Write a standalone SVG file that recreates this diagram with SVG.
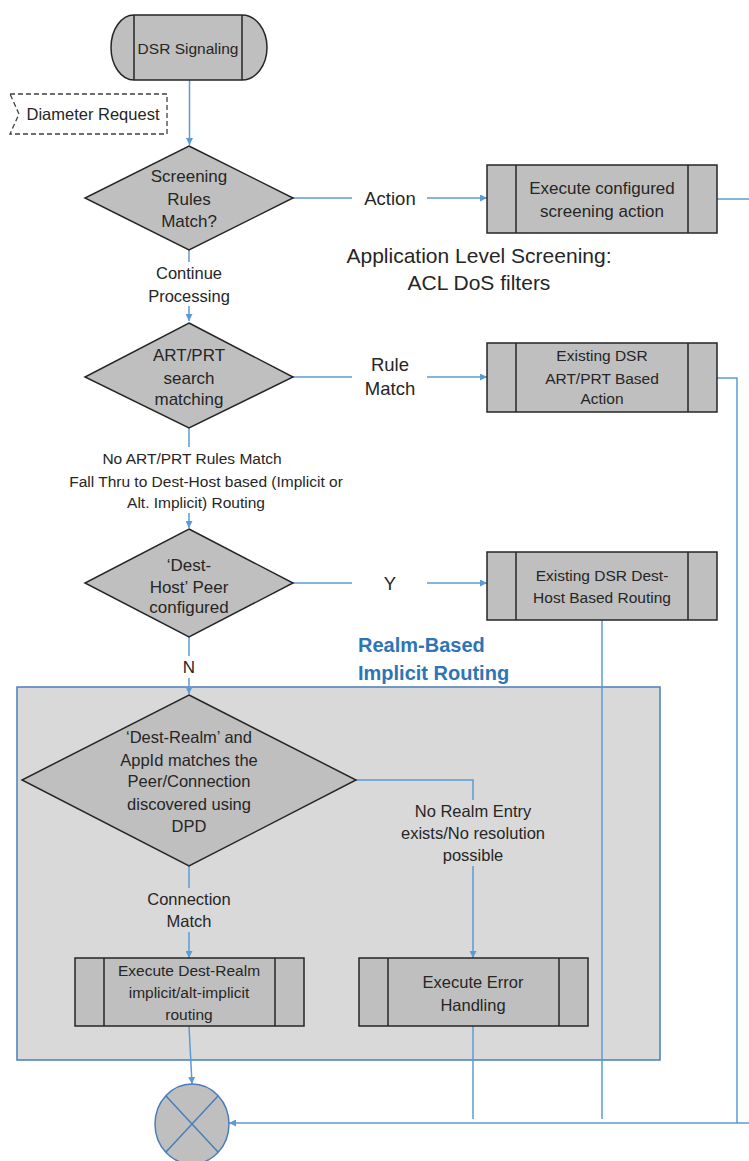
<svg xmlns="http://www.w3.org/2000/svg" width="749" height="1161" viewBox="0 0 749 1161">
<style>
text{font-family:"Liberation Sans",Arial,sans-serif;font-size:16.5px;fill:#262626;text-anchor:middle;dominant-baseline:central}
text.s{font-size:15.5px}
text.d{font-size:17px}
text.l{font-size:18.5px}
.shape{fill:#bfbfbf;stroke:#262626;stroke-width:1.5}
.inner{stroke:#262626;stroke-width:1.5;fill:none}
.conn{fill:none;stroke:#5b9bd5;stroke-width:1.5}
text.big{font-size:21px}
text.realm{font-size:20px;font-weight:bold;fill:#2e75b6;text-anchor:start}
.bgw{fill:#ffffff}
.bgg{fill:#d9d9d9}
</style>
<defs>
<marker id="arr" viewBox="0 0 10 10" refX="10" refY="5" markerWidth="7" markerHeight="7" orient="auto" markerUnits="userSpaceOnUse">
<path d="M0,0 L10,5 L0,10 Z" fill="#5b9bd5"/>
</marker>
</defs>

<g id="realm-group">
<rect x="17" y="687" width="643" height="373" fill="#d9d9d9" stroke="#4a7ebb" stroke-width="1.5"/>
</g>

<g id="connectors">
<path class="conn" d="M189.5,80 V145" marker-end="url(#arr)"/>
<path class="conn" d="M293,198 H487" marker-end="url(#arr)"/>
<path class="conn" d="M717,199 H749"/>
<path class="conn" d="M189,250 V321" marker-end="url(#arr)"/>
<path class="conn" d="M293,377 H487" marker-end="url(#arr)"/>
<path class="conn" d="M717,378 H737 V1123"/>
<path class="conn" d="M189,428 V528" marker-end="url(#arr)"/>
<path class="conn" d="M293,583 H487" marker-end="url(#arr)"/>
<path class="conn" d="M602,620 V1119"/>
<path class="conn" d="M189,637 V694" marker-end="url(#arr)"/>
<path class="conn" d="M189,866 V958" marker-end="url(#arr)"/>
<path class="conn" d="M356,780 H473 V958" marker-end="url(#arr)"/>
<path class="conn" d="M473,1026 V1119"/>
<path class="conn" d="M189,1026 L192,1084" marker-end="url(#arr)"/>
<path class="conn" d="M749,1123 H229" marker-end="url(#arr)"/>
<!-- connector labels -->
<rect class="bgw" x="352" y="186" width="75" height="26"/>
<text class="l" x="390" y="198">Action</text>
<rect class="bgw" x="150" y="262" width="78" height="44"/>
<text x="189" y="273">Continue</text>
<text x="189" y="296">Processing</text>
<rect class="bgw" x="352" y="351" width="75" height="50"/>
<text class="l" x="390" y="364">Rule</text>
<text class="l" x="390" y="388">Match</text>
<rect class="bgw" x="70" y="447" width="275" height="66"/>
<text class="s" x="192" y="458">No ART/PRT Rules Match</text>
<text class="s" x="206" y="481">Fall Thru to Dest-Host based (Implicit or</text>
<text class="s" x="196" y="502">Alt. Implicit) Routing</text>
<rect class="bgw" x="352" y="571" width="75" height="24"/>
<text class="l" x="390" y="583">Y</text>
<rect class="bgw" x="178" y="656" width="22" height="22"/>
<text class="d" x="189" y="667">N</text>
<rect class="bgg" x="141" y="888" width="96" height="44"/>
<text x="189" y="899">Connection</text>
<text x="189" y="921">Match</text>
<rect class="bgg" x="393" y="800" width="160" height="66"/>
<text x="473" y="811">No Realm Entry</text>
<text x="473" y="833">exists/No resolution</text>
<text x="473" y="855">possible</text>
</g>

<g id="dsr-signaling">
<path class="shape" d="M134,15 H242 A25,32.5 0 0 1 242,80 H134 A23,32.5 0 0 1 134,15 Z"/>
<line class="inner" x1="134" y1="15" x2="134" y2="80"/>
<line class="inner" x1="242" y1="15" x2="242" y2="80"/>
<text class="s" x="188" y="48">DSR Signaling</text>
</g>

<g id="diameter-request">
<path d="M10,94 H167 V134 H10 L19,114 Z" fill="#ffffff" stroke="#404040" stroke-width="1.3" stroke-dasharray="5,3"/>
<text x="93" y="114">Diameter Request</text>
</g>

<g id="screening-decision">
<polygon class="shape" points="189,146 293,198 189,250 85,198"/>
<text class="d" x="189" y="176">Screening</text>
<text class="d" x="189" y="199">Rules</text>
<text class="d" x="189" y="221">Match?</text>
</g>

<g id="screening-action">
<rect class="shape" x="487" y="165" width="230" height="68"/>
<line class="inner" x1="516" y1="165" x2="516" y2="233"/>
<line class="inner" x1="688" y1="165" x2="688" y2="233"/>
<text class="d" x="602" y="188">Execute configured</text>
<text class="d" x="602" y="211">screening action</text>
</g>

<g id="screening-caption">
<text class="big" x="479" y="255">Application Level Screening:</text>
<text class="big" x="479" y="282">ACL DoS filters</text>
</g>

<g id="art-prt-decision">
<polygon class="shape" points="189,323 293,377 189,428 85,377"/>
<text class="d" x="189" y="355">ART/PRT</text>
<text class="d" x="189" y="378">search</text>
<text class="d" x="189" y="399">matching</text>
</g>

<g id="art-prt-action">
<rect class="shape" x="487" y="343" width="230" height="69"/>
<line class="inner" x1="516" y1="343" x2="516" y2="412"/>
<line class="inner" x1="688" y1="343" x2="688" y2="412"/>
<text class="s" x="602" y="355">Existing DSR</text>
<text class="s" x="602" y="378">ART/PRT Based</text>
<text class="s" x="602" y="398">Action</text>
</g>

<g id="dest-host-decision">
<polygon class="shape" points="189,529 293,583 189,637 85,583"/>
<text class="d" x="189" y="565">‘Dest-</text>
<text class="d" x="189" y="587">Host’ Peer</text>
<text class="d" x="189" y="607">configured</text>
</g>

<g id="dest-host-routing">
<rect class="shape" x="487" y="552" width="230" height="68"/>
<line class="inner" x1="516" y1="552" x2="516" y2="620"/>
<line class="inner" x1="688" y1="552" x2="688" y2="620"/>
<text class="s" x="602" y="575">Existing DSR Dest-</text>
<text class="s" x="602" y="597">Host Based Routing</text>
</g>

<g id="realm-label">
<text class="realm" x="358" y="645">Realm-Based</text>
<text class="realm" x="358" y="673">Implicit Routing</text>
</g>

<g id="dest-realm-decision">
<polygon class="shape" points="189,695 356,780 189,866 22,780"/>
<text x="189" y="737">‘Dest-Realm’ and</text>
<text x="189" y="760">AppId matches the</text>
<text x="189" y="781">Peer/Connection</text>
<text x="189" y="804">discovered using</text>
<text x="189" y="826">DPD</text>
</g>

<g id="dest-realm-routing">
<rect class="shape" x="75" y="958" width="229" height="68"/>
<line class="inner" x1="104" y1="958" x2="104" y2="1026"/>
<line class="inner" x1="275" y1="958" x2="275" y2="1026"/>
<text class="s" x="189" y="970">Execute Dest-Realm</text>
<text class="s" x="189" y="992">implicit/alt-implicit</text>
<text class="s" x="189" y="1014">routing</text>
</g>

<g id="error-handling">
<rect class="shape" x="359" y="958" width="229" height="68"/>
<line class="inner" x1="388" y1="958" x2="388" y2="1026"/>
<line class="inner" x1="559" y1="958" x2="559" y2="1026"/>
<text x="473" y="982">Execute Error</text>
<text x="473" y="1005">Handling</text>
</g>

<g id="end-junction">
<ellipse cx="192" cy="1124" rx="37" ry="40" fill="#bfbfbf" stroke="#4a7ebb" stroke-width="1.5"/>
<line x1="166" y1="1096" x2="218" y2="1152" stroke="#4a7ebb" stroke-width="1.5"/>
<line x1="218" y1="1096" x2="166" y2="1152" stroke="#4a7ebb" stroke-width="1.5"/>
</g>
</svg>
